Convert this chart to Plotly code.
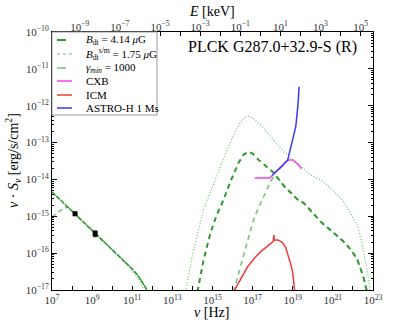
import numpy as np
import plotly.graph_objs as go

# log10 of frequency [Hz] and log10 of nu*S_nu [erg/s/cm^2]
radio_logv = [7, 8, 9, 10, 10.5, 11, 11.3, 11.5, 11.65, 11.75]
radio_bdt = [-14.34, -14.86, -15.38, -15.90, -16.16, -16.43, -16.62, -16.78, -16.92, -17.05]
radio_sm_logv = [7, 8, 9, 10, 10.6, 11, 11.3, 11.5, 11.62]
radio_sm = [-14.34, -14.86, -15.38, -15.90, -16.22, -16.47, -16.70, -16.90, -17.05]
radio_gm_logv = [7, 7.3, 7.55, 7.8, 8.2, 9, 10, 11, 11.3, 11.5, 11.65, 11.75]
radio_gm = [-15.02, -14.88, -14.79, -14.75, -14.96, -15.38, -15.90, -16.43, -16.62, -16.78, -16.92, -17.05]

ic_logv = [14.25, 14.55, 14.9, 15.2, 15.55, 15.9, 16.3, 16.55, 16.8, 17.0, 17.3, 17.7,
           18.05, 18.6, 19.25, 19.55, 20.4, 21.05, 21.6, 21.9, 22.2, 22.4, 22.55, 22.7]
ic_bdt = [-17.05, -16.2, -15.45, -14.98, -14.55, -14.05, -13.55, -13.33, -13.25, -13.3, -13.47, -13.65,
          -13.82, -14.2, -14.55, -14.64, -15.15, -15.45, -15.72, -15.91, -16.15, -16.45, -16.7, -17.05]
ic_sm_logv = [13.65, 14.0, 14.55, 15.0, 15.4, 15.8, 16.25, 16.55, 16.75, 17.0, 17.4, 18.0,
              18.55, 19.2, 19.9, 20.4, 21.0, 21.55, 21.9, 22.25, 22.45, 22.6, 22.75, 22.85]
ic_sm = [-17.05, -16.05, -14.82, -14.2, -13.66, -13.1, -12.57, -12.35, -12.28, -12.33, -12.52, -12.9,
         -13.25, -13.55, -13.88, -14.01, -14.3, -14.61, -14.93, -15.28, -15.75, -16.2, -16.6, -17.05]
ic_gm_logv = [16.05, 16.35, 16.7, 17.05, 17.25, 17.55, 17.9, 18.1, 18.6, 19.25, 19.55, 20.4,
              21.05, 21.6, 21.9, 22.2, 22.4, 22.55, 22.7]
ic_gm = [-17.05, -16.43, -15.76, -15.09, -14.82, -14.47, -14.05, -13.88, -14.2, -14.55, -14.64, -15.15,
         -15.45, -15.72, -15.91, -16.15, -16.45, -16.7, -17.05]

cxb_logv = [17.1, 17.85, 18.3, 18.65, 18.8, 19.0, 19.2, 19.45]
cxb = [-13.96, -13.96, -13.72, -13.52, -13.47, -13.47, -13.56, -13.71]

icm_logv = [16.05, 16.4, 16.75, 17.1, 17.4, 17.7, 17.9, 18.03, 18.06, 18.08, 18.1, 18.3,
            18.5, 18.65, 18.8, 18.9, 19.0, 19.07, 19.1]
icm = [-17.05, -16.7, -16.37, -16.13, -15.96, -15.83, -15.75, -15.68, -15.5, -15.66, -15.64, -15.65,
       -15.72, -15.85, -16.1, -16.3, -16.53, -16.8, -17.05]

astroh_logv = [17.98, 18.2, 18.45, 18.75, 19.0, 19.15, 19.25, 19.32]
astroh = [-13.88, -13.78, -13.65, -13.47, -12.95, -12.57, -12.03, -11.49]

obs_nu = [1.41e8, 1.41e9]
obs_flux = [1.17e-15, 3.4e-16]
obs_err = [0.06e-15, 0.6e-16]

HZ_PER_KEV = 2.418e17
FONT = "Liberation Serif"

C_DARK = "#2e9a2e"
C_LIGHT = "#7cc47c"
C_DOT = "#6cbf6c"


def lin(v):
    return 10 ** np.array(v)


fig = go.Figure()


def add_line(lx, ly, color, width, dash):
    fig.add_trace(go.Scatter(x=lin(lx), y=lin(ly), mode="lines",
                             line=dict(color=color, width=width, dash=dash),
                             hoverinfo="skip", showlegend=False))


add_line(radio_sm_logv, radio_sm, C_DOT, 1.2, "1px,2px")
add_line(radio_gm_logv, radio_gm, C_LIGHT, 1.5, "5px,3px")
add_line(radio_logv, radio_bdt, C_DARK, 1.5, "5px,1px")
add_line(ic_sm_logv, ic_sm, C_DOT, 1.2, "1px,2px")
add_line(ic_gm_logv, ic_gm, C_LIGHT, 1.6, "5px,4px")
add_line(ic_logv, ic_bdt, C_DARK, 2, "5px,4px")
add_line(cxb_logv, cxb, "#f040f0", 1.5, "solid")
add_line(icm_logv, icm, "#f03a3a", 1.5, "solid")
add_line(astroh_logv, astroh, "#3a3af0", 1.5, "solid")

fig.add_trace(go.Scatter(x=obs_nu, y=obs_flux, mode="markers",
                         marker=dict(symbol="square", size=5, color="black"),
                         error_y=dict(type="data", array=obs_err, color="black", thickness=1, width=2),
                         hoverinfo="skip", showlegend=False))

# invisible trace so the top energy axis is drawn
fig.add_trace(go.Scatter(x=[1e-3], y=[1e-12], xaxis="x2", mode="markers",
                         marker=dict(opacity=0), hoverinfo="skip", showlegend=False))


def sup(n):
    return "10<sup>%s</sup>" % (str(n).replace("-", "\u2212"))


x_exp = list(range(7, 24))
e_exp = list(range(-10, 6))
y_exp = list(range(-17, -9))
y_minor = [m * 10.0 ** e for e in range(-17, -10) for m in range(2, 10)]

axis_common = dict(showline=True, linecolor="black", linewidth=1, ticks="inside",
                   tickcolor="black", showgrid=False, zeroline=False, automargin=False,
                   tickfont=dict(family=FONT, size=11, color="#333333"))

fig.update_layout(
    template="none",
    width=415, height=323,
    margin=dict(l=52, r=42, t=32, b=33, autoexpand=False),
    paper_bgcolor="white", plot_bgcolor="white",
    xaxis=dict(type="log", range=[7, 23], tickmode="array",
               tickvals=[10.0 ** e for e in x_exp],
               ticktext=[sup(e) if e % 2 else "" for e in x_exp],
               ticklen=4, **axis_common),
    xaxis2=dict(type="log", overlaying="x", side="top", anchor="y",
                range=[7 - np.log10(HZ_PER_KEV), 23 - np.log10(HZ_PER_KEV)],
                tickmode="array", tickvals=[10.0 ** e for e in e_exp],
                ticktext=[sup(e) if e % 2 else "" for e in e_exp],
                ticklen=4, ticklabelstandoff=-4, **axis_common),
    yaxis=dict(type="log", range=[-17, -10], tickmode="array",
               tickvals=[10.0 ** e for e in y_exp],
               ticktext=[sup(e) for e in y_exp], mirror="ticks", ticklen=5,
               minor=dict(tickmode="array", tickvals=y_minor, ticks="inside", ticklen=2,
                          tickcolor="black"),
               **axis_common),
)


def px_x(px):
    return (px - 52) / 321.0


def px_y(py):
    return (290 - py) / 258.0


annotations = [
    dict(text="PLCK G287.0+32.9-S (R)", x=px_x(272), y=px_y(47), font=dict(size=16)),
    dict(text="<i>ν</i> [Hz]", x=px_x(211), y=px_y(312), font=dict(size=14)),
    dict(text="<i>E</i> [keV]", x=px_x(212), y=px_y(11), font=dict(size=14)),
    dict(text="<i>ν</i> · <i>S<sub>ν</sub></i> [erg/s/cm<sup>2</sup>]", x=px_x(13), y=px_y(161),
         textangle=-90, font=dict(size=14)),
]

# hand-drawn legend box, matching the matplotlib one
legend_rows = [
    ("<i>B</i><sub>dt</sub> = 4.14 <i>μ</i>G", C_DARK, 2, "dash"),
    ("<i>B</i><sub>dt</sub><sup>s/m</sup> = 1.75 <i>μ</i>G", C_DOT, 1.2, "dot"),
    ("<i>γ<sub>min</sub></i> = 1000", C_LIGHT, 1.6, "dash"),
    ("CXB", "#f040f0", 1.5, "solid"),
    ("ICM", "#f03a3a", 1.5, "solid"),
    ("ASTRO-H 1 Ms", "#3a3af0", 1.5, "solid"),
]
legend_y = [40, 54, 68, 81, 95, 108]

shapes = [dict(type="rect", xref="paper", yref="paper", x0=px_x(52), x1=px_x(157),
               y0=px_y(115), y1=px_y(32), line=dict(color="#999999", width=1),
               fillcolor="white", layer="above")]
for (label, color, width, dash), py in zip(legend_rows, legend_y):
    shapes.append(dict(type="line", xref="paper", yref="paper", x0=px_x(57), x1=px_x(72),
                       y0=px_y(py), y1=px_y(py), line=dict(color=color, width=width, dash=dash),
                       layer="above"))
    annotations.append(dict(text=label, x=px_x(84), y=px_y(py), xanchor="left",
                            font=dict(size=11)))

for a in annotations:
    a.setdefault("xanchor", "center")
    a.update(xref="paper", yref="paper", showarrow=False, yanchor="middle")
    a["font"].update(family=FONT, color="black")

fig.update_layout(annotations=annotations, shapes=shapes)

# the page body has a default 8px margin; drop it so the chart sits at the window's corner
fig.write_html("out.html", config={"displayModeBar": False},
               post_script="document.body.style.margin='0';")
